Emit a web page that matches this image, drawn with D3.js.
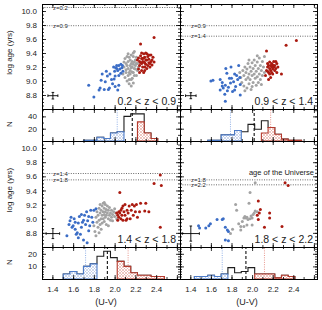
<!DOCTYPE html>
<html><head><meta charset="utf-8">
<script src="https://cdn.jsdelivr.net/npm/d3@7/dist/d3.min.js"></script>
<style>
html,body{margin:0;padding:0;background:#fff;}
svg{display:block;}
text{font-family:"Liberation Sans",Arial,Helvetica,sans-serif;}
</style></head><body>
<svg id="chart" width="322" height="310"></svg>
<script>
// ---------------- DATA ----------------
const zRangeLabels = ["0.2 < z < 0.9", "0.9 < z < 1.4", "1.4 < z < 1.8", "1.8 < z < 2.2"];
const xTickVals = [1.4, 1.6, 1.8, 2.0, 2.2, 2.4, 2.6];
const xLabelMax = 2.4;
const ageTickVals = [8.8, 9.0, 9.2, 9.4, 9.6, 9.8, 10.0];
const histTickTop = [20, 40];
const histTickBottom = [10, 20];

// universe age lines per panel
const ageLineLabels = [["z=0.2", "z=0.9"], ["z=0.9", "z=1.4"], ["z=1.4", "z=1.8"], ["z=1.8", "z=2.2"]];
const ageLineValues = [[10.05, 9.79], [9.79, 9.64], [9.64, 9.55], [9.55, 9.48]];
const universeNote = "age of the Universe";

// typical error bars (center and half-widths)
const errCenter = [1.405, 8.79];
const errX = [0.048, 0.051, 0.065, 0.083];
const errY = [0.047, 0.043, 0.071, 0.107];

// scatter points [U-V, log age]
const blue1 = [[1.75,8.94],[1.80,8.77],[1.85,8.87],[1.86,8.90],[1.87,9.01],[1.88,9.10],[1.90,8.88],[1.91,8.99],[1.92,9.14],[1.93,9.07],[1.94,8.88],[1.95,8.90],[1.955,9.10],[1.97,9.02],[1.99,9.20],[1.995,9.03],[2.0,9.14],[2.005,9.07],[2.005,8.92],[2.02,9.22],[2.03,9.15],[2.03,8.87],[2.04,9.22],[2.04,8.94],[2.04,9.08],[2.05,9.17],[2.06,9.11],[2.07,9.19],[2.08,9.14],[2.06,9.24],[2.02,9.18],[2.075,9.22],[1.98,8.96],[2.01,9.19]];
const gray1 = [[2.08,9.10],[2.09,9.20],[2.09,9.27],[2.10,9.32],[2.10,9.05],[2.11,9.25],[2.11,9.12],[2.11,9.16],[2.12,9.22],[2.12,9.00],[2.13,9.39],[2.13,9.18],[2.13,9.28],[2.14,9.02],[2.14,9.12],[2.14,9.34],[2.15,9.30],[2.15,9.10],[2.15,9.15],[2.15,9.22],[2.16,9.37],[2.16,9.25],[2.16,9.02],[2.16,9.19],[2.17,9.20],[2.17,9.04],[2.17,9.28],[2.17,9.13],[2.18,9.12],[2.18,8.97],[2.18,9.35],[2.18,9.24],[2.19,9.27],[2.19,9.42],[2.19,9.18],[2.19,9.08],[2.20,9.17],[2.20,9.30],[2.20,9.22],[2.21,9.34],[2.21,9.08],[2.21,9.25],[2.22,9.25],[2.22,9.15],[2.12,9.35],[2.14,8.96],[2.16,8.93],[2.13,9.08],[2.23,9.20],[2.18,9.40]];
const red1 = [[2.22,9.30],[2.23,9.17],[2.24,9.28],[2.24,9.22],[2.25,9.36],[2.25,9.53],[2.25,9.26],[2.26,9.25],[2.26,9.15],[2.26,9.32],[2.27,9.32],[2.27,9.20],[2.27,9.28],[2.28,9.39],[2.28,9.27],[2.28,9.33],[2.28,9.12],[2.29,9.34],[2.29,9.20],[2.29,9.26],[2.30,9.40],[2.30,9.30],[2.30,9.24],[2.31,9.30],[2.31,9.39],[2.31,9.18],[2.32,9.22],[2.32,9.35],[2.33,9.37],[2.33,9.31],[2.33,9.26],[2.34,9.25],[2.34,9.20],[2.35,9.37],[2.35,9.28],[2.36,9.30],[2.36,9.23],[2.38,9.27],[2.38,9.62],[2.37,9.34],[2.24,9.12],[2.26,9.40],[2.29,9.15],[2.23,9.33]];

const blue2 = [[1.60,9.00],[1.62,9.01],[1.69,9.02],[1.71,8.98],[1.72,8.90],[1.74,8.94],[1.755,9.11],[1.77,8.91],[1.79,8.97],[1.80,9.04],[1.82,8.99],[1.84,8.92],[1.85,9.08],[1.86,9.02],[1.87,9.22],[1.885,8.95],[1.745,9.18],[1.795,9.20],[1.69,8.87],[1.735,8.81],[1.81,8.85],[1.885,8.80],[1.74,8.71],[1.83,8.87],[1.78,9.04],[1.71,8.93],[1.83,9.10],[1.88,9.05],[1.76,8.86]];
const gray2 = [[1.88,9.12],[1.89,9.05],[1.90,8.98],[1.91,9.15],[1.92,8.93],[1.92,9.08],[1.93,9.20],[1.94,9.02],[1.94,9.12],[1.95,8.90],[1.95,9.17],[1.96,9.05],[1.96,9.25],[1.97,8.96],[1.97,9.10],[1.98,9.20],[1.98,9.02],[1.99,9.14],[1.99,8.88],[2.00,9.08],[2.00,9.26],[2.01,8.98],[2.01,9.18],[2.02,9.10],[2.02,9.30],[2.03,9.04],[2.03,9.22],[2.04,8.94],[2.04,9.14],[2.05,9.27],[2.05,9.06],[2.06,9.18],[2.06,8.98],[2.07,9.33],[2.07,9.10],[2.08,9.22],[2.08,9.02],[2.09,9.15],[2.10,9.28],[2.10,9.08],[2.11,9.20],[2.12,9.12],[2.12,9.35],[1.93,8.86],[2.00,8.92],[2.05,9.36],[1.97,9.30],[2.09,8.95]];
const red2 = [[2.13,9.08],[2.14,9.43],[2.14,9.15],[2.15,9.20],[2.15,9.25],[2.16,9.02],[2.16,9.12],[2.16,9.22],[2.17,9.18],[2.17,9.27],[2.17,9.10],[2.18,9.22],[2.18,9.15],[2.19,9.25],[2.19,9.12],[2.19,9.20],[2.20,9.17],[2.20,9.23],[2.20,9.10],[2.21,9.20],[2.21,9.28],[2.22,9.15],[2.22,9.22],[2.23,9.18],[2.24,9.12],[2.24,9.25],[2.25,9.20],[2.285,9.10],[2.33,9.51],[2.43,9.58],[2.18,9.05],[2.23,9.28],[2.15,9.14]];

const blue3 = [[1.54,8.76],[1.56,8.92],[1.57,8.97],[1.59,8.88],[1.60,8.90],[1.61,9.00],[1.62,8.85],[1.63,8.78],[1.64,8.80],[1.65,8.94],[1.65,8.73],[1.66,9.03],[1.67,8.78],[1.68,8.88],[1.69,8.95],[1.70,8.98],[1.70,8.70],[1.71,9.05],[1.72,8.92],[1.73,9.10],[1.735,8.66],[1.74,8.97],[1.75,9.03],[1.75,8.83],[1.76,8.90],[1.77,9.12],[1.78,9.02],[1.79,8.95],[1.80,9.12],[1.82,9.14],[1.62,8.95],[1.68,9.06],[1.58,9.02]];
const gray3 = [[1.80,8.90],[1.81,8.82],[1.82,9.02],[1.82,8.76],[1.83,8.95],[1.83,9.10],[1.84,9.05],[1.84,8.88],[1.85,9.15],[1.85,8.98],[1.86,9.08],[1.86,9.20],[1.86,8.92],[1.87,9.12],[1.87,9.00],[1.88,9.18],[1.88,9.05],[1.88,8.94],[1.89,9.22],[1.89,9.10],[1.89,9.00],[1.90,9.15],[1.90,9.06],[1.90,8.96],[1.91,9.20],[1.91,9.10],[1.91,9.02],[1.92,9.13],[1.92,9.05],[1.92,8.92],[1.93,9.18],[1.93,9.08],[1.94,9.00],[1.94,9.12],[1.95,9.05],[1.95,9.16],[1.96,9.08],[1.96,8.98],[1.97,9.12],[1.97,9.02],[1.98,9.06],[1.99,9.10],[2.00,9.03],[2.00,9.14],[2.01,9.08],[1.87,8.85],[1.85,8.80],[1.90,9.23],[1.94,8.90],[1.98,8.97],[2.02,9.00]];
const red3 = [[2.02,9.08],[2.03,9.05],[2.03,8.98],[2.04,9.10],[2.04,9.02],[2.05,9.37],[2.05,9.08],[2.06,9.00],[2.06,9.12],[2.07,9.05],[2.08,9.18],[2.08,8.98],[2.09,9.10],[2.10,9.05],[2.10,9.20],[2.11,8.98],[2.12,9.12],[2.13,9.08],[2.14,9.18],[2.15,9.00],[2.16,9.12],[2.17,9.20],[2.18,9.05],[2.19,9.18],[2.20,9.10],[2.21,9.20],[2.22,9.02],[2.24,9.10],[2.25,9.22],[2.29,9.11],[2.30,9.22],[2.33,9.10],[2.38,9.50],[2.44,9.62],[2.45,9.47],[2.44,8.88],[2.12,9.00],[2.07,9.15]];

const blue4 = [[1.48,8.90],[1.49,8.87],[1.55,8.87],[1.58,8.90],[1.595,8.93],[1.66,8.99],[1.71,8.99],[1.72,9.00],[1.74,8.88],[1.76,8.84],[1.77,8.82],[1.74,8.70],[1.77,8.69]];
const gray4 = [[1.79,8.79],[1.84,9.20],[1.85,9.12],[1.89,8.89],[1.905,8.96],[1.92,9.01],[1.94,9.01],[1.96,8.99],[1.98,9.00],[2.00,9.01],[2.01,9.06],[2.03,9.11],[1.97,9.22],[1.98,9.37],[2.03,9.51],[1.95,8.91],[1.92,8.89],[1.89,8.84],[2.00,8.91],[2.05,9.10],[1.93,9.03],[1.99,9.04],[2.02,9.08],[1.95,9.02],[1.87,8.93],[1.81,8.85]];
const red4 = [[2.06,9.25],[2.06,8.99],[2.05,9.05],[2.08,9.13],[2.12,8.88],[2.17,9.08],[2.17,9.01],[2.29,8.89],[2.32,9.51],[2.35,9.47],[2.07,9.08]];

// histograms: bin starts (width binWidth)
const binStarts = [1.44,1.505,1.57,1.635,1.70,1.765,1.83,1.895,1.96,2.025,2.09,2.155,2.22,2.285,2.35,2.415,2.48];
const binWidth = 0.065;
const histAll1  = [0,0,0,0,1,1,6,4,13,15,40,44,44,13,4,0,0];
const histBlue1 = [0,0,0,0,1,1,6,4,13,15,0,0,0,0,0,0,0];
const histRed1  = [0,0,0,0,0,0,0,0,0,0,0,0,31,13,4,0,0];
const histAll2  = [0,0,1,1,10,10,17,15,27,19,33,22,11,3,1,1,0];
const histBlue2 = [0,0,1,1,10,10,17,0,0,0,0,0,0,0,0,0,0];
const histRed2  = [0,0,0,0,0,0,0,0,0,0,13,22,11,3,1,1,0];
const histAll3  = [0,4,6,4,10,12,18,22,17,14,10,5,3,3,2,2,0];
const histBlue3 = [0,4,6,4,10,12,0,0,0,0,0,0,0,0,0,0,0];
const histRed3  = [0,0,0,0,0,0,0,0,0,14,10,5,3,3,2,2,0];
const histAll4  = [2,2,3,2,4,9,5,6,9,4,4,4,1,3,2,0,0];
const histBlue4 = [2,2,3,2,4,0,0,0,0,0,0,0,0,0,0,0,0];
const histRed4  = [0,0,0,0,0,0,0,0,0,4,4,4,1,3,2,0,0];
const histMaxRow = [52, 25.4];

// vertical reference lines (dashed = dividing colour, dotted = medians)
const dashedLine = [2.17, 2.02, 1.93, 1.94];
const blueMedian = [2.025, 1.79, 1.72, 1.71];
const redMedian = [null, 2.18, 2.13, 2.12];

// ---------------- LAYOUT ----------------
const colX = [[42, 180], [180, 317]];
const scatterY = [[4, 109], [141, 247]];
const histY = [[109, 141], [247, 279]];
const xDomain = [1.3, 2.63];
const ageDomain = [8.6, 10.1];

const C = {
  blue: "#3b6dc6", gray: "#a3a3a3", red: "#aa1a10",
  blueLine: "#4d7cc9", redLine: "#b53a2e",
  blueHatch: "#aebfe3", redHatch: "#e4a39a",
  blueDot: "#86a8e4", redDot: "#e58a80"
};

const panels = [
  {blue: blue1, gray: gray1, red: red1, all: histAll1, hb: histBlue1, hr: histRed1},
  {blue: blue2, gray: gray2, red: red2, all: histAll2, hb: histBlue2, hr: histRed2},
  {blue: blue3, gray: gray3, red: red3, all: histAll3, hb: histBlue3, hr: histRed3},
  {blue: blue4, gray: gray4, red: red4, all: histAll4, hb: histBlue4, hr: histRed4}
];

const svg = d3.select("#chart");
const defs = svg.append("defs");
function hatch(id, color) {
  const p = defs.append("pattern").attr("id", id).attr("patternUnits", "userSpaceOnUse")
    .attr("width", 3).attr("height", 3);
  p.append("rect").attr("width", 3).attr("height", 3).attr("fill", "#fff");
  p.append("path").attr("d", "M0,0L3,3M3,0L0,3M-1,2L1,4M2,-1L4,1").attr("stroke", color).attr("stroke-width", 0.6);
}
hatch("hb", C.blueHatch);
hatch("hr", C.redHatch);

const FONT = '"Liberation Sans",Arial,Helvetica,sans-serif';

function drawAxes(g, x, y, x0, x1, y0, y1, o) {
  const mk = (fn, scale, vals, size, fmt, tr, pad) => {
    const a = g.append("g").attr("transform", tr)
      .call(fn(scale).tickValues(vals).tickSize(size).tickSizeOuter(0).tickPadding(pad || 5).tickFormat(fmt || (() => "")));
    a.select(".domain").remove();
    a.selectAll("line").attr("stroke", "#000").attr("stroke-width", 0.8);
    a.selectAll("text").attr("font-size", 8).attr("fill", "#222").attr("font-family", FONT);
    return a;
  };
  mk(d3.axisBottom, x, o.xMinor, -2, null, `translate(0,${y1})`);
  mk(d3.axisBottom, x, xTickVals, -4, o.xLabels ? (d => d <= xLabelMax + 1e-6 ? d3.format(".1f")(d) : "") : null, `translate(0,${y1})`, 7);
  mk(d3.axisTop, x, o.xMinor, -2, null, `translate(0,${y0})`);
  mk(d3.axisTop, x, xTickVals, -4, null, `translate(0,${y0})`);
  mk(d3.axisLeft, y, o.yMinor, -2, null, `translate(${x0},0)`);
  mk(d3.axisLeft, y, o.yMajor, -4, o.yLabels ? o.yFmt : null, `translate(${x0},0)`, 5);
  mk(d3.axisRight, y, o.yMinor, -2, null, `translate(${x1},0)`);
  mk(d3.axisRight, y, o.yMajor, -4, null, `translate(${x1},0)`);
  g.append("rect").attr("x", x0).attr("y", y0).attr("width", x1 - x0).attr("height", y1 - y0)
    .attr("fill", "none").attr("stroke", "#000").attr("stroke-width", 1).attr("shape-rendering", "crispEdges");
}

const xMinor = d3.range(1.3, 2.631, 0.1).map(v => +v.toFixed(2));
const ageMinor = d3.range(8.6, 10.101, 0.05).map(v => +v.toFixed(2));

function stepPath(counts, x, y, close) {
  let d = "", open = false, last = 0;
  counts.forEach((c, i) => {
    const xa = x(binStarts[i]), xb = x(binStarts[i] + binWidth);
    if (c > 0) {
      if (!open) { d += `M${xa},${y(0)}`; open = true; }
      d += `L${xa},${y(c)}L${xb},${y(c)}`;
      last = xb;
    } else if (open) {
      d += `L${last},${y(0)}` + (close ? "Z" : "");
      open = false;
    }
  });
  if (open) d += `L${last},${y(0)}` + (close ? "Z" : "");
  return d;
}

panels.forEach((P, i) => {
  const col = i % 2, row = Math.floor(i / 2);
  const [x0, x1] = colX[col];
  const [sy0, sy1] = scatterY[row];
  const [hy0, hy1] = histY[row];
  const x = d3.scaleLinear().domain(xDomain).range([x0, x1]);
  const ys = d3.scaleLinear().domain(ageDomain).range([sy1, sy0]);
  const yh = d3.scaleLinear().domain([0, histMaxRow[row]]).range([hy1, hy0]);

  // ---- scatter panel ----
  const gs = svg.append("g");
  ageLineValues[i].forEach((a, k) => {
    gs.append("line").attr("x1", x0).attr("x2", x1).attr("y1", ys(a)).attr("y2", ys(a))
      .attr("stroke", "#444").attr("stroke-width", 0.8).attr("stroke-dasharray", "1,1.4");
    gs.append("text").attr("x", x0 + 11).attr("y", ys(a)).attr("dy", "0.35em")
      .attr("font-size", 6).attr("fill", "#222").attr("font-family", FONT)
      .attr("stroke", "#fff").attr("stroke-width", 1.2).attr("paint-order", "stroke")
      .text(ageLineLabels[i][k]);
  });
  if (i === 3) {
    gs.append("text").attr("x", x1 - 3).attr("y", ys(ageLineValues[i][0]) - 5)
      .attr("text-anchor", "end").attr("font-size", 7.5).attr("fill", "#222").attr("font-family", FONT)
      .text(universeNote);
  }
  const dot = (pts, color) => gs.append("g").selectAll("circle").data(pts).join("circle")
    .attr("cx", d => x(d[0])).attr("cy", d => ys(d[1])).attr("r", 1.5).attr("fill", color);
  dot(P.gray, C.gray);
  dot(P.blue, C.blue);
  dot(P.red, C.red);

  const ex = x(errCenter[0]), ey = ys(errCenter[1]);
  const hx = x(errCenter[0] + errX[i]) - ex, hyv = ey - ys(errCenter[1] + errY[i]);
  const eb = gs.append("g").attr("stroke", "#000").attr("stroke-width", 0.9);
  eb.append("line").attr("x1", ex - hx).attr("x2", ex + hx).attr("y1", ey).attr("y2", ey);
  eb.append("line").attr("x1", ex).attr("x2", ex).attr("y1", ey - hyv).attr("y2", ey + hyv);
  [[ex - hx, ey - 1.3, ex - hx, ey + 1.3], [ex + hx, ey - 1.3, ex + hx, ey + 1.3],
   [ex - 1.3, ey - hyv, ex + 1.3, ey - hyv], [ex - 1.3, ey + hyv, ex + 1.3, ey + hyv]]
    .forEach(s => eb.append("line").attr("x1", s[0]).attr("y1", s[1]).attr("x2", s[2]).attr("y2", s[3]));

  gs.append("text").attr("x", x1 - 4).attr("y", sy1 - 4).attr("text-anchor", "end")
    .attr("font-size", 10.5).attr("fill", "#222").attr("font-family", FONT)
    .text(zRangeLabels[i]);

  drawAxes(gs, x, ys, x0, x1, sy0, sy1, {
    xMinor, xLabels: false, yMajor: ageTickVals, yMinor: ageMinor,
    yLabels: col === 0, yFmt: d3.format(".1f")
  });

  // ---- histogram panel ----
  const gh = svg.append("g");
  const vline = (v, color, dash, w) => gh.append("line").attr("x1", x(v)).attr("x2", x(v))
    .attr("y1", hy1).attr("y2", hy0).attr("stroke", color).attr("stroke-width", w).attr("stroke-dasharray", dash);
  vline(blueMedian[i], C.blueDot, "1,1.3", 0.9);
  if (redMedian[i] != null) vline(redMedian[i], C.redDot, "1,1.3", 0.9);

  gh.append("path").attr("d", stepPath(P.all, x, yh, false)).attr("fill", "none")
    .attr("stroke", "#1e1e1e").attr("stroke-width", 1.1);
  gh.append("path").attr("d", stepPath(P.hb, x, yh, true)).attr("fill", "url(#hb)")
    .attr("stroke", C.blueLine).attr("stroke-width", 1.1);
  gh.append("path").attr("d", stepPath(P.hr, x, yh, true)).attr("fill", "url(#hr)")
    .attr("stroke", C.redLine).attr("stroke-width", 1.1);
  vline(dashedLine[i], "#111", "3,2", 1.1);

  const hMajor = row === 0 ? histTickTop : histTickBottom;
  const hMinor = row === 0 ? d3.range(0, 52, 10) : d3.range(0, 25.5, 2);
  drawAxes(gh, x, yh, x0, x1, hy0, hy1, {
    xMinor, xLabels: row === 1, yMajor: hMajor, yMinor: hMinor,
    yLabels: col === 0, yFmt: d3.format("d")
  });

  if (row === 1) {
    svg.append("text").attr("x", col === 0 ? 106 : 247).attr("y", 305).attr("text-anchor", "middle")
      .attr("font-size", 9).attr("fill", "#222").attr("font-family", FONT).text("(U-V)");
  }
  if (col === 0) {
    svg.append("text").attr("transform", `translate(9,${(sy0 + sy1) / 2 - 4}) rotate(-90)`)
      .attr("text-anchor", "middle").attr("dy", "0.35em").attr("font-size", 8).attr("fill", "#222")
      .attr("font-family", FONT).text("log age (yrs)");
    svg.append("text").attr("transform", `translate(9,${(hy0 + hy1) / 2 - 1}) rotate(-90)`)
      .attr("text-anchor", "middle").attr("dy", "0.35em").attr("font-size", 8).attr("fill", "#222")
      .attr("font-family", FONT).text("N");
  }
});
</script>
</body></html>
